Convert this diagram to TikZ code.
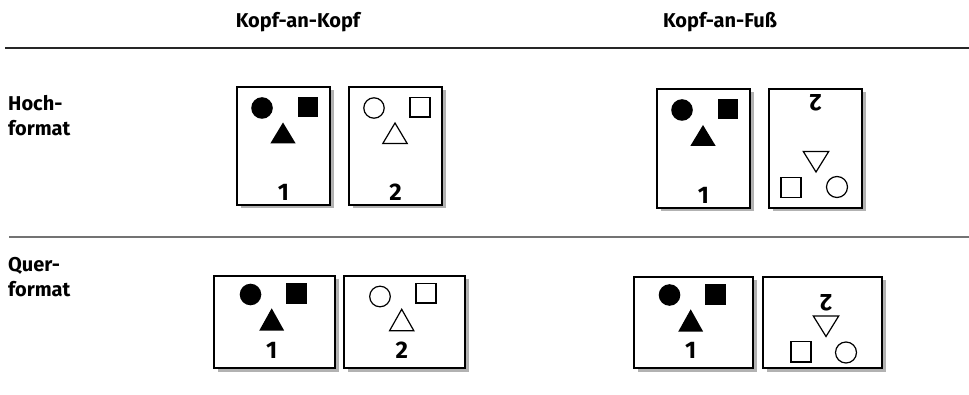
\documentclass[tikz,border=0pt]{standalone}
\usepackage{fontspec}
\setmainfont{Fira Sans}
\begin{document}
\begin{tikzpicture}[x=1pt,y=-1pt,
  lbl/.style={font=\fontsize{20}{22}\selectfont\bfseries, inner sep=0pt},
  num/.style={font=\fontsize{24}{26}\selectfont\bfseries, inner sep=0pt, anchor=base},
  pagebox/.style={draw=black, line width=1.1pt, fill=white},
  pshadow/.style={fill=black!30, draw=none},
  solidshape/.style={fill=black, draw=none},
  hollowshape/.style={draw=black, line width=1.2pt, fill=white},
  rule1/.style={draw=black!85, line width=1.8pt},
  rule2/.style={draw=black!55, line width=1.2pt}]
\useasboundingbox (0,0) rectangle (969,395);

% headers
\node[lbl, anchor=base] (h1) at (298,28) {Kopf-an-Kopf};
\node[lbl, anchor=base] (h2) at (720,28) {Kopf-an-Fuß};
\coordinate (r1a) at (5,48);
\coordinate (r1b) at (969,48);
\draw[rule1] (r1a) -- (r1b);
\coordinate (r2a) at (9,237);
\coordinate (r2b) at (969,237);
\draw[rule2] (r2a) -- (r2b);

% row labels
\node[lbl, anchor=base west] (hoch) at (8,111) {Hoch-};
\node[lbl, anchor=base west] (hformat) at (8,136) {format};
\node[lbl, anchor=base west] (quer) at (8,272) {Quer-};
\node[lbl, anchor=base west] (qformat) at (8,297) {format};

% ---------- portrait pages ----------
% A1
\begin{scope}[shift={(237,87)}]
  \fill[pshadow] (3.5,3.5) rectangle (96.5,121.5);
  \draw[pagebox] (0,0) rectangle (93,118);
  \fill[solidshape] (25,21) circle (10.8);
  \fill[solidshape] (61,10) rectangle (81,30);
  \fill[solidshape] (46,35.5) -- (33.3,56.5) -- (58.7,56.5) -- cycle;
  \node[num] (nA1) at (46.5,114) {1};
\end{scope}
% A2
\begin{scope}[shift={(349,87)}]
  \fill[pshadow] (3.5,3.5) rectangle (96.5,121.5);
  \draw[pagebox] (0,0) rectangle (93,118);
  \draw[hollowshape] (25,21) circle (10.2);
  \draw[hollowshape] (61,10.5) rectangle (81,30);
  \draw[hollowshape] (46,36) -- (33.8,56.5) -- (58.2,56.5) -- cycle;
  \node[num] (nA2) at (46.5,114) {2};
\end{scope}
% B1
\begin{scope}[shift={(657,89)}]
  \fill[pshadow] (3.5,3.5) rectangle (96.5,122.5);
  \draw[pagebox] (0,0) rectangle (93,119);
  \fill[solidshape] (25,21) circle (10.8);
  \fill[solidshape] (60.5,10) rectangle (81,30);
  \fill[solidshape] (46,36) -- (33.3,57) -- (58.7,57) -- cycle;
  \node[num] (nB1) at (46.5,115) {1};
\end{scope}
% B2 (rotated by 180 degrees)
\begin{scope}[shift={(769,89)}]
  \fill[pshadow] (3.5,3.5) rectangle (96.5,122.5);
  \draw[pagebox] (0,0) rectangle (93,119);
  \draw[hollowshape] (68,98) circle (10.5);
  \draw[hollowshape] (12,88.5) rectangle (32,108.5);
  \draw[hollowshape] (47,83) -- (34.3,62.5) -- (59.7,62.5) -- cycle;
  \node[num, rotate=180] (nB2) at (46.5,5.5) {2};
\end{scope}

% ---------- landscape pages ----------
% C1
\begin{scope}[shift={(214,276)}]
  \fill[pshadow] (3.5,3.5) rectangle (124.5,95.5);
  \draw[pagebox] (0,0) rectangle (121,92);
  \fill[solidshape] (36.5,18.5) circle (10.8);
  \fill[solidshape] (72,7.3) rectangle (92.5,28);
  \fill[solidshape] (57.7,32.3) -- (45.2,54.7) -- (70.2,54.7) -- cycle;
  \node[num] (nC1) at (57.7,82) {1};
\end{scope}
% C2
\begin{scope}[shift={(344,276)}]
  \fill[pshadow] (3.5,3.5) rectangle (124.5,95.5);
  \draw[pagebox] (0,0) rectangle (121,92);
  \draw[hollowshape] (36,20.5) circle (10.3);
  \draw[hollowshape] (72,7.5) rectangle (92,27);
  \draw[hollowshape] (57.7,33.3) -- (45.6,54.7) -- (69.8,54.7) -- cycle;
  \node[num] (nC2) at (57.7,82) {2};
\end{scope}
% D1
\begin{scope}[shift={(634,277)}]
  \fill[pshadow] (3.5,3.5) rectangle (122.5,94.5);
  \draw[pagebox] (0,0) rectangle (119,91);
  \fill[solidshape] (35.5,18) circle (10.8);
  \fill[solidshape] (71,7.3) rectangle (91.7,28);
  \fill[solidshape] (56.7,32.3) -- (44.2,54.7) -- (69.2,54.7) -- cycle;
  \node[num] (nD1) at (56.7,81.5) {1};
\end{scope}
% D2 (rotated by 180 degrees)
\begin{scope}[shift={(763,277)}]
  \fill[pshadow] (3.5,3.5) rectangle (122.5,94.5);
  \draw[pagebox] (0,0) rectangle (119,91);
  \draw[hollowshape] (83,75.5) circle (10.5);
  \draw[hollowshape] (28,64.5) rectangle (48,85);
  \draw[hollowshape] (63,59.5) -- (50.3,39) -- (75.7,39) -- cycle;
  \node[num, rotate=180] (nD2) at (63,17.5) {2};
\end{scope}
\end{tikzpicture}
\end{document}
